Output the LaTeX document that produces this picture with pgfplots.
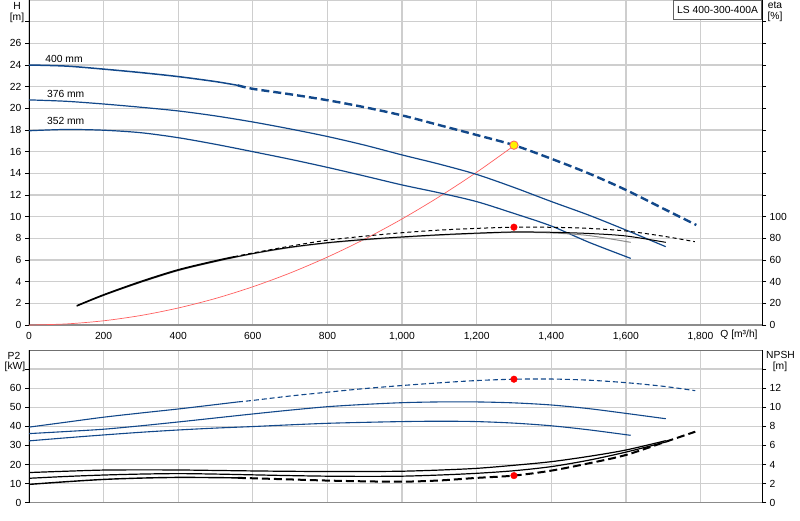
\documentclass[border=0pt]{standalone}
\usepackage{fontspec}
\setmainfont{Liberation Sans}
\usepackage{pgfplots}
\pgfplotsset{compat=1.18}
\definecolor{pblue}{RGB}{18,72,138}
\definecolor{gridc}{RGB}{206,206,206}
\definecolor{sysred}{RGB}{255,95,95}
\definecolor{frameg}{RGB}{140,140,140}
\pgfplotsset{
  base/.style={
    scale only axis, width=733pt, xmin=0, xmax=1965,
    /pgf/number format/assume math mode=true,
    tick label style={font=\fontsize{10.3}{12}\selectfont},
    tick align=outside, major tick length=4pt,
    every tick/.style={black, line width=0.6pt},
  },
}
\begin{document}
\fontsize{10.3}{12}\selectfont
\begin{tikzpicture}
\useasboundingbox (0pt,0pt) rectangle (800pt,-520pt);

% ================= TOP: H and eta =================
\begin{axis}[base, at={(29pt,-325pt)}, anchor=south west, height=325pt,
  ymin=0, ymax=30,
  xtick={0,200,...,1800},
  xticklabels={0,200,400,600,800,{1,000},{1,200},{1,400},{1,600},{1,800}},
  ytick={0,2,...,28},
  yticklabels={0,2,4,6,8,10,12,14,16,18,20,22,24,26,{}},
  xtick style={draw=none},
  grid=major, major grid style={gridc, line width=1.3pt},
  axis line style={draw=none},
  clip=false,
]
\draw[gridc, line width=1pt] (rel axis cs:0,1) -- (rel axis cs:1,1);
\draw[frameg, line width=2pt] (rel axis cs:0,0) -- (rel axis cs:1,0);
\draw[black, line width=1pt] (rel axis cs:0,0) -- (rel axis cs:0,1);
% system curve
\addplot[sysred, line width=0.7pt, smooth] coordinates {
(0,0)(100,0.1)(200,0.39)(300,0.88)(400,1.57)(500,2.45)(600,3.53)(700,4.8)
(800,6.27)(900,7.93)(1000,9.79)(1100,11.85)(1200,14.1)(1300,16.55)};
% 352 mm
\addplot[pblue, line width=1.2pt, smooth] coordinates {
(0,17.93)(100,18.05)(200,17.98)(300,17.75)(400,17.29)(500,16.68)(600,16.0)
(700,15.3)(800,14.55)(900,13.75)(1000,12.93)(1100,12.2)(1200,11.39)(1300,10.3)
(1400,9.14)(1500,7.65)(1613,6.15)};
% 376 mm
\addplot[pblue, line width=1.2pt, smooth] coordinates {
(0,20.78)(100,20.65)(200,20.4)(300,20.1)(400,19.76)(500,19.3)(600,18.74)
(700,18.1)(800,17.4)(900,16.6)(1000,15.7)(1100,14.85)(1200,13.9)(1300,12.7)
(1400,11.4)(1500,10.15)(1600,8.77)(1707,7.23)};
% 400 mm
\addplot[pblue, line width=1.5pt, smooth] coordinates {
(0,24.0)(100,23.9)(200,23.62)(300,23.3)(400,22.93)(500,22.47)(560,22.12)};
\addplot[pblue, line width=2.4pt, smooth, dash pattern=on 8pt off 4pt] coordinates {
(560,22.12)(600,21.8)(700,21.3)(800,20.75)(900,20.1)(1000,19.35)(1100,18.45)
(1200,17.54)(1300,16.6)(1400,15.35)(1500,14.0)(1600,12.47)(1700,10.75)(1789,9.23)};
% duty point
\addplot[only marks, mark=*, mark size=4.2pt,
  mark options={fill=yellow, draw=sysred, line width=0.8pt}] coordinates {(1300,16.6)};
\end{axis}

\begin{axis}[base, at={(29pt,-325pt)}, anchor=south west, height=325pt,
  ymin=0, ymax=300,
  axis x line=none, axis y line*=right,
  ytick={0,20,...,100},
  yticklabels={0,20,40,60,80,100},
  y axis line style={black, line width=1pt},
]
% efficiency 352
\addplot[black!45, line width=1pt, smooth] coordinates {
(128,17.3)(200,27.3)(300,39.4)(400,50.2)(500,58.5)(600,65.7)(700,71.4)(800,75.6)
(900,78.6)(1000,80.9)(1100,82.9)(1200,84.4)(1300,85.5)(1400,85.0)(1500,82.6)(1613,76.3)};
% efficiency 376
\addplot[black, line width=1pt, smooth] coordinates {
(128,17.5)(200,27.5)(300,39.7)(400,50.5)(500,58.8)(600,66.0)(700,71.8)(800,76.0)
(900,79.0)(1000,81.3)(1100,83.3)(1200,84.8)(1300,85.9)(1400,85.6)(1500,84.5)
(1600,82.2)(1707,76.3)};
% efficiency 400
\addplot[black, line width=1.2pt, smooth] coordinates {
(128,17.9)(200,28.0)(300,40.3)(400,51.1)(500,59.4)(550,63.1)};
\addplot[black, line width=1pt, smooth, dash pattern=on 4pt off 3pt] coordinates {
(550,63.1)(600,66.5)(700,72.8)(800,78.3)(900,82.0)(1000,85.2)(1100,87.6)
(1200,89.2)(1300,90.3)(1400,90.2)(1500,89.2)(1600,86.8)(1700,82.0)(1785,76.9)};
\addplot[only marks, mark=*, mark size=3.3pt, mark options={fill=red, draw=red}]
  coordinates {(1300,90.3)};
\end{axis}

% ================= BOTTOM: P2 and NPSH =================
\begin{axis}[base, at={(29pt,-502.7pt)}, anchor=south west, height=152.7pt,
  ymin=0, ymax=80,
  xtick={0,200,...,1800}, xticklabels={},
  ytick={0,10,...,70},
  yticklabels={0,10,20,30,40,50,60,{}},
  xtick style={draw=none},
  grid=major, major grid style={gridc, line width=1.3pt},
  axis line style={draw=none},
]
\draw[frameg!80!black, line width=1pt] (rel axis cs:0,1) -- (rel axis cs:1,1);
\draw[frameg, line width=2pt] (rel axis cs:0,0) -- (rel axis cs:1,0);
\draw[black, line width=1pt] (rel axis cs:0,0) -- (rel axis cs:0,1);
% P2 352
\addplot[pblue, line width=1.1pt, smooth] coordinates {
(0,32.4)(100,34.0)(200,35.5)(300,36.9)(400,38.1)(500,39.1)(600,39.9)(700,40.8)
(800,41.6)(900,42.1)(1000,42.5)(1100,42.7)(1200,42.5)(1300,41.7)(1400,40.3)
(1500,38.2)(1613,35.3)};
% P2 376
\addplot[pblue, line width=1.1pt, smooth] coordinates {
(0,36.2)(100,37.3)(200,38.5)(300,40.3)(400,42.3)(500,44.4)(600,46.5)(700,48.5)
(800,50.3)(900,51.5)(1000,52.4)(1100,52.8)(1200,52.8)(1300,52.3)(1400,51.2)
(1500,49.3)(1600,46.8)(1707,44.0)};
% P2 400
\addplot[pblue, line width=1.1pt, smooth] coordinates {
(0,39.6)(100,42.2)(200,44.8)(300,47.0)(400,49.1)(500,51.4)(560,52.8)};
\addplot[pblue, line width=1.1pt, smooth, dash pattern=on 5pt off 3pt] coordinates {
(560,52.8)(600,53.6)(700,55.9)(800,57.9)(900,59.8)(1000,61.4)(1100,62.8)
(1200,64.0)(1300,64.7)(1400,64.8)(1500,64.2)(1600,62.9)(1700,61.0)(1786,58.7)};
\addplot[only marks, mark=*, mark size=3.3pt, mark options={fill=red, draw=red}]
  coordinates {(1300,64.7)};
\end{axis}

\begin{axis}[base, at={(29pt,-502.7pt)}, anchor=south west, height=152.7pt,
  ymin=0, ymax=16,
  axis x line=none, axis y line*=right,
  ytick={0,2,...,14},
  yticklabels={0,2,4,6,8,10,12,{}},
  y axis line style={black, line width=1pt},
]
% NPSH curves
\addplot[black, line width=1.2pt, smooth] coordinates {
(0,3.16)(100,3.3)(200,3.42)(300,3.44)(400,3.43)(500,3.38)(600,3.33)(700,3.29)
(800,3.27)(900,3.27)(1000,3.3)(1100,3.42)(1200,3.6)(1300,3.92)(1400,4.3)
(1500,4.85)(1600,5.52)(1707,6.5)};
\addplot[black, line width=1.2pt, smooth] coordinates {
(0,2.56)(100,2.75)(200,2.9)(300,3.0)(400,3.05)(500,3.0)(600,2.92)(700,2.84)
(800,2.78)(900,2.76)(1000,2.78)(1100,2.9)(1200,3.08)(1300,3.35)(1400,3.78)
(1500,4.45)(1600,5.3)(1707,6.36)};
\addplot[black, line width=1.4pt, smooth] coordinates {
(0,1.92)(100,2.2)(200,2.44)(300,2.58)(400,2.65)(500,2.63)(560,2.6)};
\addplot[black, line width=2pt, smooth, dash pattern=on 8pt off 4pt] coordinates {
(560,2.6)(600,2.56)(700,2.44)(800,2.32)(900,2.24)(1000,2.2)(1100,2.33)(1200,2.6)
(1300,2.84)(1400,3.36)(1500,4.12)(1600,5.0)(1700,6.3)(1786,7.44)};
\addplot[only marks, mark=*, mark size=3.3pt, mark options={fill=red, draw=red}]
  coordinates {(1300,2.84)};
\end{axis}

% ================= texts =================
\node at (17pt,-6pt) {H};
\node at (17pt,-17.5pt) {[m]};
\node at (775pt,-5.5pt) {eta};
\node at (775pt,-17pt) {[\%]};
\node at (14pt,-355.7pt) {P2};
\node at (15pt,-366.7pt) {[kW]};
\node at (780.5pt,-355pt) {NPSH};
\node at (780pt,-367.3pt) {[m]};
\node at (739pt,-335pt) {Q [m³/h]};
\node at (64pt,-59pt) {400 mm};
\node at (65.7pt,-94pt) {376 mm};
\node at (65.7pt,-120.7pt) {352 mm};
\node[draw=frameg!70!black, fill=white, line width=0.8pt, anchor=north east,
  minimum width=88pt, minimum height=19pt, inner sep=2pt] at (762pt,0pt) {LS 400-300-400A};
\end{tikzpicture}
\end{document}
